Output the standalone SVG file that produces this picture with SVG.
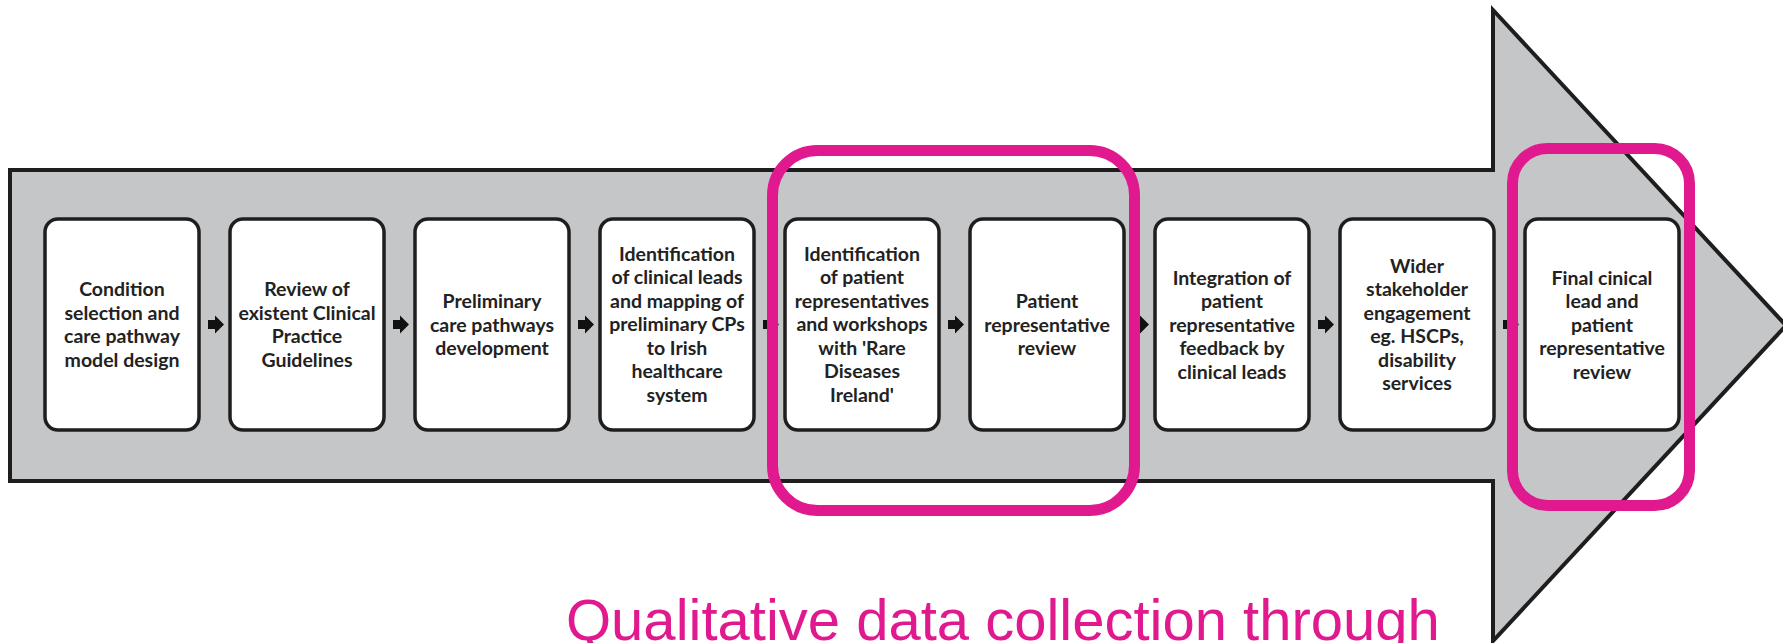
<svg xmlns="http://www.w3.org/2000/svg" width="1783" height="643" viewBox="0 0 1783 643">
<defs>
<style>
.body{fill:#c5c6c8;stroke:#1e1e1e;stroke-width:4;stroke-linejoin:miter}
.box{fill:#ffffff;stroke:#1e1e1e;stroke-width:3.5}
.lbl{font-family:Lato,"Open Sans",sans-serif;font-weight:bold;font-size:19.5px;fill:#222222;text-anchor:middle}
.hl{fill:none;stroke:#e0198f;stroke-width:11}
.cap{font-family:"Liberation Sans",Arial,sans-serif;font-size:58px;fill:#e0198f}
</style>
<path id="sa" d="M0,-4.5 H7 V-9 L16,0 L7,9 V4.5 H0 Z" fill="#111111"/>
</defs>
<rect width="1783" height="643" fill="#ffffff"/>
<polygon class="body" points="10,170 1493,170 1493,10 1786,325.5 1493,641 1493,481 10,481"/>
<g id="connectors">
<use href="#sa" x="208" y="324.5"/>
<use href="#sa" x="393" y="324.5"/>
<use href="#sa" x="578" y="324.5"/>
<use href="#sa" x="763" y="324.5"/>
<use href="#sa" x="948" y="324.5"/>
<use href="#sa" x="1133" y="324.5"/>
<use href="#sa" x="1318" y="324.5"/>
<use href="#sa" x="1503" y="324.5"/>
</g>
<g id="n1"><rect class="box" x="45" y="219" width="154" height="211" rx="13"/>
<text class="lbl"><tspan x="122" y="296">Condition</tspan><tspan x="122" y="319.5">selection and</tspan><tspan x="122" y="343">care pathway</tspan><tspan x="122" y="366.5">model design</tspan></text></g>
<g id="n2"><rect class="box" x="230" y="219" width="154" height="211" rx="13"/>
<text class="lbl"><tspan x="307" y="296">Review of</tspan><tspan x="307" y="319.5">existent Clinical</tspan><tspan x="307" y="343">Practice</tspan><tspan x="307" y="366.5">Guidelines</tspan></text></g>
<g id="n3"><rect class="box" x="415" y="219" width="154" height="211" rx="13"/>
<text class="lbl"><tspan x="492" y="308">Preliminary</tspan><tspan x="492" y="331.5">care pathways</tspan><tspan x="492" y="355">development</tspan></text></g>
<g id="n4"><rect class="box" x="600" y="219" width="154" height="211" rx="13"/>
<text class="lbl"><tspan x="677" y="260.5">Identification</tspan><tspan x="677" y="284">of clinical leads</tspan><tspan x="677" y="307.5">and mapping of</tspan><tspan x="677" y="331">preliminary CPs</tspan><tspan x="677" y="354.5">to Irish</tspan><tspan x="677" y="378">healthcare</tspan><tspan x="677" y="401.5">system</tspan></text></g>
<g id="n5"><rect class="box" x="785" y="219" width="154" height="211" rx="13"/>
<text class="lbl"><tspan x="862" y="260.5">Identification</tspan><tspan x="862" y="284">of patient</tspan><tspan x="862" y="307.5">representatives</tspan><tspan x="862" y="331">and workshops</tspan><tspan x="862" y="354.5">with 'Rare</tspan><tspan x="862" y="378">Diseases</tspan><tspan x="862" y="401.5">Ireland'</tspan></text></g>
<g id="n6"><rect class="box" x="970" y="219" width="154" height="211" rx="13"/>
<text class="lbl"><tspan x="1047" y="308">Patient</tspan><tspan x="1047" y="331.5">representative</tspan><tspan x="1047" y="355">review</tspan></text></g>
<g id="n7"><rect class="box" x="1155" y="219" width="154" height="211" rx="13"/>
<text class="lbl"><tspan x="1232" y="284.5">Integration of</tspan><tspan x="1232" y="308">patient</tspan><tspan x="1232" y="331.5">representative</tspan><tspan x="1232" y="355">feedback by</tspan><tspan x="1232" y="378.5">clinical leads</tspan></text></g>
<g id="n8"><rect class="box" x="1340" y="219" width="154" height="211" rx="13"/>
<text class="lbl"><tspan x="1417" y="272.5">Wider</tspan><tspan x="1417" y="296">stakeholder</tspan><tspan x="1417" y="319.5">engagement</tspan><tspan x="1417" y="343">eg. HSCPs,</tspan><tspan x="1417" y="366.5">disability</tspan><tspan x="1417" y="390">services</tspan></text></g>
<g id="n9"><rect class="box" x="1525" y="219" width="154" height="211" rx="13"/>
<text class="lbl"><tspan x="1602" y="284.5">Final cinical</tspan><tspan x="1602" y="308">lead and</tspan><tspan x="1602" y="331.5">patient</tspan><tspan x="1602" y="355">representative</tspan><tspan x="1602" y="378.5">review</tspan></text></g>
<g id="highlights">
<rect class="hl" x="772.5" y="150.5" width="362" height="360" rx="45"/>
<rect class="hl" x="1512.5" y="148.5" width="177" height="357" rx="35"/>
</g>
<text class="cap" x="566" y="640">Qualitative data collection through</text>
</svg>
